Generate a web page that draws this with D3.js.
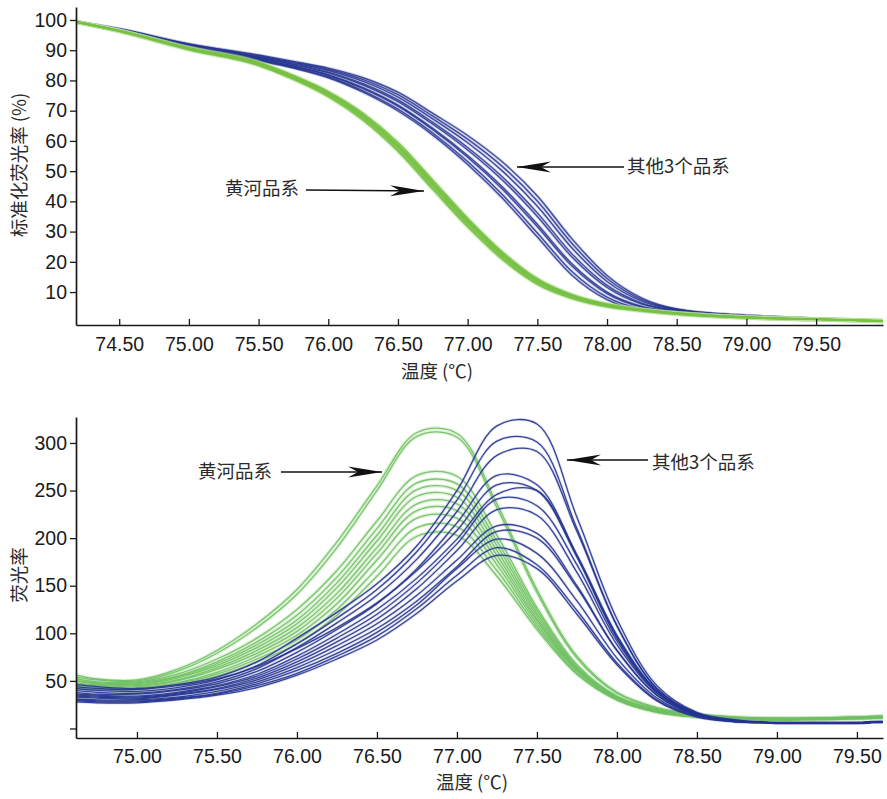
<!DOCTYPE html>
<html>
<head>
<meta charset="utf-8">
<script src="https://cdn.jsdelivr.net/npm/d3@7/dist/d3.min.js"></script>
<style>
  html, body { margin: 0; padding: 0; background: #fff; }
  svg { display: block; }
  .num { font-family: "Liberation Sans", Arial, sans-serif; font-size: 19.5px; fill: #1a1a1a; }
  .cjk { font-family: "Noto Sans CJK SC", "Noto Sans", sans-serif; font-size: 18.5px; fill: #2a2a2a; }
</style>
</head>
<body>
<svg id="chart" width="887" height="799"></svg>
<script>
// ---- Normalized melt curves (upper panel) ----
const meltTemps = [74.2, 74.5, 75.0, 75.5, 75.75, 76.0, 76.25, 76.5, 76.75, 77.0, 77.25, 77.5, 77.75, 78.0, 78.25, 78.5, 79.0, 79.5, 80.0];

const meltYellowRiver = [
  [99.3, 96.3, 90.2, 85.0, 80.4, 74.7, 66.9, 56.6, 44.0, 31.6, 20.8, 12.6, 7.9, 5.2, 3.8, 2.7, 1.5, 1.0, 0.4],
  [99.3, 96.35, 90.35, 85.25, 80.7, 75.1, 67.45, 57.3, 44.75, 32.3, 21.4, 13.05, 8.2, 5.4, 3.9, 2.8, 1.55, 1.0, 0.4],
  [99.3, 96.4, 90.5, 85.5, 81.0, 75.5, 68.0, 58.0, 45.5, 33.0, 22.0, 13.5, 8.5, 5.6, 4.0, 2.9, 1.6, 1.0, 0.4],
  [99.3, 96.43, 90.58, 85.63, 81.15, 75.7, 68.28, 58.35, 45.88, 33.35, 22.3, 13.73, 8.65, 5.7, 4.05, 2.95, 1.62, 1.0, 0.4],
  [99.3, 96.45, 90.65, 85.75, 81.3, 75.9, 68.55, 58.7, 46.25, 33.7, 22.6, 13.95, 8.8, 5.8, 4.1, 3.0, 1.65, 1.0, 0.4],
  [99.3, 96.5, 90.8, 86.0, 81.6, 76.3, 69.1, 59.4, 47.0, 34.4, 23.2, 14.4, 9.1, 6.0, 4.25, 3.05, 1.7, 1.0, 0.4]
];

const meltOthers = [
  [99.3, 96.5, 90.9, 86.6, 84.1, 80.9, 76.1, 69.9, 61.9, 52.2, 41.0, 28.2, 15.5, 7.5, 4.0, 3.2, 2.1, 1.1, 0.4],
  [99.3, 96.54, 91.02, 86.8, 84.3, 81.22, 76.58, 70.54, 62.62, 53.16, 42.2, 29.56, 16.7, 8.3, 4.4, 3.32, 2.1, 1.1, 0.4],
  [99.3, 96.6, 91.2, 87.1, 84.6, 81.7, 77.3, 71.5, 63.7, 54.6, 44.0, 31.6, 18.5, 9.5, 5.0, 3.5, 2.1, 1.1, 0.4],
  [99.3, 96.68, 91.28, 87.17, 84.78, 81.9, 77.6, 71.85, 64.15, 55.2, 44.75, 32.45, 19.25, 10.0, 5.25, 3.58, 2.1, 1.1, 0.4],
  [99.3, 96.8, 91.5, 87.5, 85.2, 82.5, 78.5, 73.0, 65.5, 57.0, 47.0, 35.0, 21.5, 11.5, 6.0, 3.8, 2.1, 1.1, 0.4],
  [99.3, 96.86, 91.61, 87.65, 85.4, 82.78, 78.92, 73.54, 66.13, 57.84, 48.05, 36.19, 22.55, 12.2, 6.35, 3.9, 2.1, 1.1, 0.4],
  [99.3, 96.9, 91.8, 87.9, 85.8, 83.3, 79.7, 74.5, 67.3, 59.4, 50.0, 38.4, 24.5, 13.5, 7.0, 4.1, 2.2, 1.1, 0.4],
  [99.3, 97.0, 92.0, 88.2, 86.0, 83.7, 80.3, 75.3, 68.2, 60.6, 51.5, 40.1, 26.0, 14.5, 7.5, 4.3, 2.2, 1.1, 0.4],
  [99.3, 97.1, 92.1, 88.4, 86.3, 84.1, 80.9, 76.1, 69.1, 61.8, 53.0, 41.8, 27.5, 15.5, 8.0, 4.4, 2.2, 1.1, 0.4]
];

// ---- Derivative melt peaks (lower panel) ----
const peakTemps = [74.62, 74.75, 75.0, 75.25, 75.5, 75.75, 76.0, 76.25, 76.5, 76.75, 77.0, 77.25, 77.5, 77.75, 78.0, 78.25, 78.5, 78.75, 79.0, 79.25, 79.5, 79.66];

const peakYellowRiver = [
  [56, 52, 51, 62, 82, 110, 146, 196, 255, 311, 310, 236, 146, 76, 38, 22, 15, 12, 11, 11, 12, 13],
  [54, 51, 50, 60, 79, 106, 141, 190, 250, 307, 306, 232, 143, 74, 37, 21, 15, 12, 11, 11, 12, 13],
  [52, 49, 49, 57, 73, 95, 125, 166, 218, 266, 265, 203, 127, 67, 34, 20, 14, 11, 10, 11, 12, 13],
  [50, 48, 48, 55, 70, 91, 119, 159, 210, 258, 257, 197, 124, 65, 33, 19, 14, 11, 10, 11, 12, 12],
  [50, 47, 47, 54, 68, 88, 114, 153, 203, 251, 250, 192, 121, 64, 33, 19, 13, 11, 10, 10, 11, 12],
  [48, 46, 46, 53, 66, 85, 110, 148, 197, 244, 243, 187, 118, 63, 32, 19, 13, 11, 10, 10, 11, 12],
  [47, 45, 45, 51, 64, 82, 106, 142, 190, 236, 236, 182, 115, 62, 32, 18, 13, 10, 9, 10, 11, 12],
  [46, 44, 44, 50, 62, 79, 102, 137, 184, 229, 229, 177, 113, 61, 31, 18, 13, 10, 9, 10, 11, 12],
  [45, 43, 43, 48, 59, 76, 98, 131, 177, 221, 221, 172, 110, 60, 31, 18, 12, 10, 9, 10, 11, 11],
  [44, 42, 42, 47, 57, 73, 93, 125, 168, 211, 212, 166, 107, 58, 30, 17, 12, 10, 9, 10, 10, 11],
  [43, 41, 41, 46, 55, 70, 89, 119, 160, 202, 203, 160, 104, 57, 30, 17, 12, 10, 9, 9, 10, 11]
];

const peakOthers = [
  [46, 44, 42, 46, 54, 70, 95, 122, 152, 192, 250, 318, 320, 222, 115, 45, 17, 9, 6, 6, 6, 7],
  [42, 40, 39, 43, 51, 66, 89, 116, 146, 186, 240, 302, 301, 210, 108, 42, 16, 8, 6, 6, 6, 7],
  [40, 38, 37, 41, 49, 63, 85, 111, 140, 178, 228, 287, 291, 207, 108, 42, 16, 8, 6, 6, 6, 7],
  [38, 36, 36, 40, 47, 60, 80, 104, 131, 168, 216, 266, 256, 182, 96, 39, 15, 8, 6, 6, 6, 7],
  [44, 42, 41, 45, 52, 65, 84, 106, 132, 166, 208, 256, 250, 180, 95, 39, 15, 8, 6, 6, 6, 7],
  [36, 35, 34, 38, 45, 57, 76, 99, 125, 158, 199, 246, 250, 182, 98, 40, 15, 8, 6, 6, 6, 7],
  [35, 34, 33, 37, 44, 55, 73, 95, 120, 153, 194, 241, 234, 172, 92, 38, 15, 8, 6, 6, 6, 7],
  [34, 33, 32, 36, 42, 53, 70, 91, 115, 147, 187, 230, 224, 164, 88, 37, 14, 8, 6, 6, 6, 7],
  [33, 32, 31, 35, 41, 51, 67, 87, 110, 140, 177, 213, 205, 150, 82, 35, 14, 8, 6, 6, 6, 7],
  [31, 30, 30, 33, 39, 49, 64, 83, 105, 134, 170, 207, 200, 148, 82, 35, 14, 8, 6, 6, 6, 7],
  [30, 29, 29, 32, 37, 47, 61, 79, 101, 130, 168, 199, 184, 134, 74, 32, 13, 7, 6, 6, 6, 7],
  [29, 28, 28, 31, 36, 45, 58, 76, 97, 126, 161, 190, 172, 124, 69, 30, 13, 7, 6, 6, 6, 7],
  [28, 27, 27, 30, 35, 43, 56, 73, 93, 121, 155, 182, 168, 120, 67, 29, 12, 7, 6, 6, 6, 7]
];

// ---- Axis ticks and labels ----
const meltTicksX = [74.5, 75.0, 75.5, 76.0, 76.5, 77.0, 77.5, 78.0, 78.5, 79.0, 79.5];
const meltTicksY = [10, 20, 30, 40, 50, 60, 70, 80, 90, 100];
const peakTicksX = [75.0, 75.5, 76.0, 76.5, 77.0, 77.5, 78.0, 78.5, 79.0, 79.5];
const peakTicksY = [0, 50, 100, 150, 200, 250, 300];

const xTitle = "温度 (℃)";
const meltYTitle = "标准化荧光率 (%)";
const peakYTitle = "荧光率";
const labelYellowRiver = "黄河品系";
const labelOthers = "其他3个品系";

const svg = d3.select("#chart");
svg.append("rect").attr("width", 887).attr("height", 799).attr("fill", "#fff");

const GREEN = "#77c144", GREEN_HALO = "#b9e09a";
const GREEN2 = "#6fc062", GREEN2_HALO = "#bfe5b6";
const BLUE = "#24348f", BLUE_HALO = "#8c8fc8";

// ---------- Upper panel ----------
const xMelt = d3.scaleLinear().domain([74.19, 79.98]).range([76, 883]);
const yMelt = d3.scaleLinear().domain([-0.9, 104.3]).range([325, 7]);

svg.append("clipPath").attr("id", "clipMelt")
  .append("rect").attr("x", 76).attr("y", 0).attr("width", 807).attr("height", 325);

const meltLine = d3.line()
  .x((d, i) => xMelt(meltTemps[i]))
  .y(d => yMelt(d))
  .curve(d3.curveMonotoneX);

const gMelt = svg.append("g").attr("clip-path", "url(#clipMelt)");
// halos first for a soft edge on each bundle
gMelt.selectAll(".bh").data(meltOthers).join("path")
  .attr("d", meltLine).attr("fill", "none")
  .attr("stroke", BLUE_HALO).attr("stroke-width", 3.2).attr("stroke-opacity", 0.35);
gMelt.selectAll(".bl").data(meltOthers).join("path")
  .attr("d", meltLine).attr("fill", "none")
  .attr("stroke", BLUE).attr("stroke-width", 1.4).attr("stroke-opacity", 0.85);
gMelt.selectAll(".gh").data(meltYellowRiver).join("path")
  .attr("d", meltLine).attr("fill", "none")
  .attr("stroke", GREEN_HALO).attr("stroke-width", 4.5).attr("stroke-opacity", 0.45);
gMelt.selectAll(".gl").data(meltYellowRiver).join("path")
  .attr("d", meltLine).attr("fill", "none")
  .attr("stroke", GREEN).attr("stroke-width", 1.7).attr("stroke-opacity", 0.9);

function styleAxis(g) {
  g.selectAll(".domain").attr("stroke", "#1a1a1a").attr("stroke-width", 1.7);
  g.selectAll(".tick line").attr("stroke", "#1a1a1a").attr("stroke-width", 1.3);
  g.selectAll(".tick text").attr("class", "num").attr("font-family", null).attr("font-size", null).attr("fill", null);
}

svg.append("g").attr("transform", "translate(0,325)")
  .call(d3.axisBottom(xMelt).tickValues(meltTicksX).tickFormat(d3.format(".2f"))
    .tickSizeInner(-6).tickSizeOuter(0).tickPadding(12))
  .call(styleAxis);
svg.append("g").attr("transform", "translate(76,0)")
  .call(d3.axisLeft(yMelt).tickValues(meltTicksY).tickFormat(d3.format("d"))
    .tickSizeInner(6).tickSizeOuter(0).tickPadding(3))
  .call(styleAxis);

svg.append("text").attr("class", "cjk").attr("x", 437).attr("y", 378)
  .attr("text-anchor", "middle").text(xTitle);
svg.append("text").attr("class", "cjk")
  .attr("transform", "translate(26,165) rotate(-90)")
  .attr("text-anchor", "middle").text(meltYTitle);

// ---------- Lower panel ----------
const xPeak = d3.scaleLinear().domain([74.619, 79.663]).range([76, 883]);
const yPeak = d3.scaleLinear().domain([-10, 327.3]).range([738, 417]);

svg.append("clipPath").attr("id", "clipPeak")
  .append("rect").attr("x", 76).attr("y", 400).attr("width", 807).attr("height", 338);

const peakLine = d3.line()
  .x((d, i) => xPeak(peakTemps[i]))
  .y(d => yPeak(d))
  .curve(d3.curveCatmullRom.alpha(0.5));

const gPeak = svg.append("g").attr("clip-path", "url(#clipPeak)");
gPeak.selectAll(".gh").data(peakYellowRiver).join("path")
  .attr("d", peakLine).attr("fill", "none")
  .attr("stroke", GREEN2_HALO).attr("stroke-width", 3.6).attr("stroke-opacity", 0.5);
gPeak.selectAll(".gl").data(peakYellowRiver).join("path")
  .attr("d", peakLine).attr("fill", "none")
  .attr("stroke", GREEN2).attr("stroke-width", 1.3).attr("stroke-opacity", 0.9);
gPeak.selectAll(".bh").data(peakOthers).join("path")
  .attr("d", peakLine).attr("fill", "none")
  .attr("stroke", BLUE_HALO).attr("stroke-width", 2.8).attr("stroke-opacity", 0.3);
gPeak.selectAll(".bl").data(peakOthers).join("path")
  .attr("d", peakLine).attr("fill", "none")
  .attr("stroke", BLUE).attr("stroke-width", 1.3).attr("stroke-opacity", 0.9);

svg.append("g").attr("transform", "translate(0,738)")
  .call(d3.axisBottom(xPeak).tickValues(peakTicksX).tickFormat(d3.format(".2f"))
    .tickSizeInner(-6).tickSizeOuter(0).tickPadding(11))
  .call(styleAxis);
svg.append("g").attr("transform", "translate(76,0)")
  .call(d3.axisLeft(yPeak).tickValues(peakTicksY).tickFormat(d => d === 0 ? "" : d3.format("d")(d))
    .tickSizeInner(6).tickSizeOuter(0).tickPadding(3))
  .call(styleAxis);

svg.append("text").attr("class", "cjk").attr("x", 472).attr("y", 789)
  .attr("text-anchor", "middle").text(xTitle);
svg.append("text").attr("class", "cjk")
  .attr("transform", "translate(26,575) rotate(-90)")
  .attr("text-anchor", "middle").text(peakYTitle);

// ---------- Annotation arrows ----------
function arrow(x1, y1, x2, y2) {
  const g = svg.append("g");
  g.append("line").attr("x1", x1).attr("y1", y1).attr("x2", x2).attr("y2", y2)
    .attr("stroke", "#111").attr("stroke-width", 1.4);
  const ang = Math.atan2(y2 - y1, x2 - x1) * 180 / Math.PI;
  g.append("path")
    .attr("d", "M0,0 L-34,-5.5 L-24,0 L-34,5.5 Z")
    .attr("fill", "#111")
    .attr("transform", `translate(${x2},${y2}) rotate(${ang})`);
}

function label(x, y, txt) {
  svg.append("text").attr("class", "cjk").attr("x", x).attr("y", y)
    .attr("font-size", "19.5px").text(txt);
}

label(225, 195, labelYellowRiver);
arrow(306, 190, 424, 191);
label(627, 173, labelOthers);
arrow(624, 167, 517, 167);

label(198, 478, labelYellowRiver);
arrow(281, 472, 382, 472);
label(652, 469, labelOthers);
arrow(648, 460, 567, 460);
</script>
</body>
</html>
